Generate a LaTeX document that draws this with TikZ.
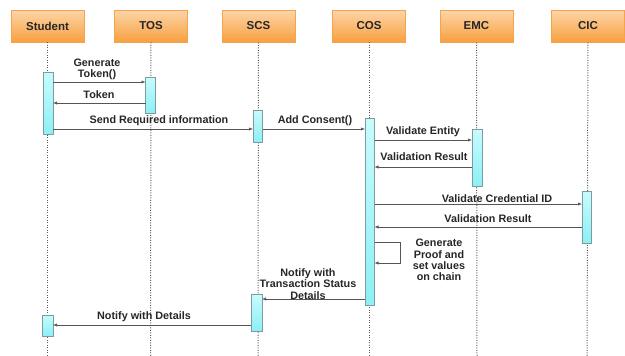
\documentclass[tikz,border=0pt]{standalone}
\usepackage{fontspec}
\setmainfont{Liberation Sans}
\usetikzlibrary{arrows.meta}
\definecolor{hdrtop}{HTML}{FDD5A8}
\definecolor{hdrbot}{HTML}{F8A040}
\definecolor{hdrline}{HTML}{F4A54C}
\definecolor{bartop}{HTML}{C8FBFD}
\definecolor{barbot}{HTML}{8CF0F5}
\definecolor{barline}{HTML}{7E9CA0}
\definecolor{msgline}{HTML}{555555}
\tikzset{
  x=1pt, y=-1pt,
  header/.style={draw=hdrline, line width=0.6pt, top color=hdrtop, bottom color=hdrbot,
    minimum width=73pt, minimum height=32pt, inner sep=0pt,
    font=\fontsize{11.5}{13}\selectfont\bfseries, text=black!85},
  lifeline/.style={draw=gray!70!black, line width=1pt, dash pattern=on 1pt off 1.5pt},
  actbar/.style={draw=barline, line width=0.6pt, top color=bartop, bottom color=barbot},
  msg/.style={draw=msgline, line width=0.6pt, -{Latex[length=4pt,width=3.2pt]}},
  lbl/.style={font=\fontsize{10.8}{11.3}\selectfont\bfseries, text=black!85, inner sep=0pt, align=center}
}
\begin{document}
\begin{tikzpicture}
\useasboundingbox (0,0) rectangle (625,356);

% participants
\node[header] (student) at (47.5,26) {Student};
\node[header] (tos) at (151,26) {TOS};
\node[header] (scs) at (258.5,26) {SCS};
\node[header] (cos) at (369,26) {COS};
\node[header] (emc) at (476.5,26) {EMC};
\node[header] (cic) at (588,26) {CIC};

% lifelines
\foreach \p/\x in {student/47.5, tos/150.5, scs/258, cos/369, emc/477, cic/587} {
  \coordinate (\p-end) at (\x,356);
  \draw[lifeline] (\p.south) -- (\p-end);
}

% activation bars
\path[actbar] (43,72) rectangle (53,134);
\path[actbar] (145.5,77) rectangle (155.5,113);
\path[actbar] (253,110.5) rectangle (262.5,142);
\path[actbar] (365,118.5) rectangle (374.5,305);
\path[actbar] (472,129) rectangle (482,186);
\path[actbar] (582,191) rectangle (591.5,243);
\path[actbar] (251,294.5) rectangle (262,331);
\path[actbar] (42.5,315) rectangle (53,336);

% message anchor points
\coordinate (m1a) at (53,82);    \coordinate (m1b) at (145.5,82);
\coordinate (m2a) at (145.5,103); \coordinate (m2b) at (53,103);
\coordinate (m3a) at (53,129);   \coordinate (m3b) at (253,129);
\coordinate (m4a) at (262.5,129); \coordinate (m4b) at (365,129);
\coordinate (m5a) at (374.5,140); \coordinate (m5b) at (472,140);
\coordinate (m6a) at (472,167);  \coordinate (m6b) at (374.5,167);
\coordinate (m7a) at (374.5,204); \coordinate (m7b) at (582,204);
\coordinate (m8a) at (582,227);  \coordinate (m8b) at (374.5,227);
\coordinate (s1) at (374.5,242); \coordinate (s2) at (400,242);
\coordinate (s3) at (400,263);   \coordinate (s4) at (374.5,263);
\coordinate (m9a) at (365,299);  \coordinate (m9b) at (262,299);
\coordinate (m10a) at (251,325); \coordinate (m10b) at (53,325);

% messages
\draw[msg] (m1a) -- (m1b);
\draw[msg] (m2a) -- (m2b);
\draw[msg] (m3a) -- (m3b);
\draw[msg] (m4a) -- (m4b);
\draw[msg] (m5a) -- (m5b);
\draw[msg] (m6a) -- (m6b);
\draw[msg] (m7a) -- (m7b);
\draw[msg] (m8a) -- (m8b);
\draw[msg] (s1) -- (s2) -- (s3) -- (s4);
\draw[msg] (m9a) -- (m9b);
\draw[msg] (m10a) -- (m10b);

% labels
\node[lbl] (l1) at (97,69) {Generate\\Token()};
\node[lbl] (l2) at (99,95) {Token};
\node[lbl] (l3) at (159,121) {Send Required information};
\node[lbl] (l4) at (315,121) {Add Consent()};
\node[lbl] (l5) at (423,131.5) {Validate Entity};
\node[lbl] (l6) at (424,157) {Validation Result};
\node[lbl] (l7) at (497,198.5) {Validate Credential ID};
\node[lbl] (l8) at (488,219) {Validation Result};
\node[lbl] (l9) at (439,260) {Generate\\Proof and\\set values\\on chain};
\node[lbl] (l10) at (308,284) {Notify with\\Transaction Status\\Details};
\node[lbl] (l11) at (144,317) {Notify with Details};
\end{tikzpicture}
\end{document}
